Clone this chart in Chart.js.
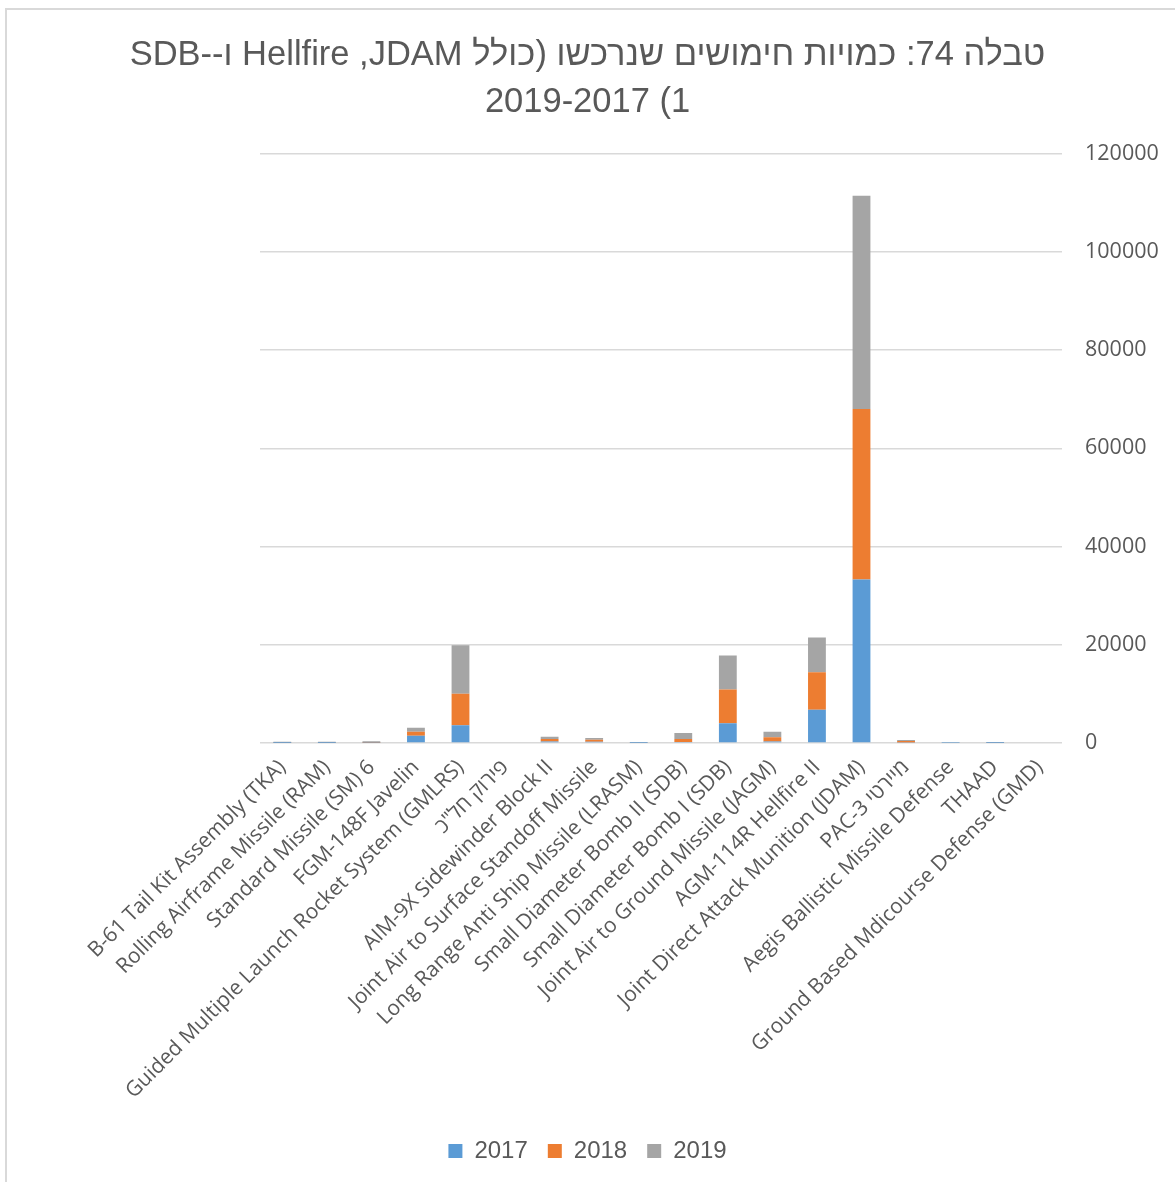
<!DOCTYPE html>
<html>
<head>
<meta charset="utf-8">
<script src="https://cdn.jsdelivr.net/npm/chart.js@4.4.1/dist/chart.umd.min.js"></script>
<style>
  html, body { margin: 0; padding: 0; background: #ffffff; overflow: hidden; }
  #frame { position: absolute; left: 5px; top: 8px; width: 1400px; height: 1400px; border: 2px solid #d9d9d9; box-sizing: border-box; }
  #c { position: absolute; left: 0; top: 0; }
</style>
</head>
<body>
<div id="frame"></div>
<canvas id="c" width="1175" height="1182"></canvas>
<script>
// ---- Data ----
const categories = [
  "B-61 Tail Kit Assembly (TKA)",
  "Rolling Airframe Missile (RAM)",
  "Standard Missile (SM) 6",
  "FGM-148F Javelin",
  "Guided Multiple Launch Rocket System (GMLRS)",
  "פירוק חל\"כ",
  "AIM-9X Sidewinder Block II",
  "Joint Air to Surface Standoff Missile",
  "Long Range Anti Ship Missile (LRASM)",
  "Small Diameter Bomb II (SDB)",
  "Small Diameter Bomb I (SDB)",
  "Joint Air to Ground Missile (JAGM)",
  "AGM-114R Hellfire II",
  "Joint Direct Attack Munition (JDAM)",
  "PAC-3 מיירטי",
  "Aegis Ballistic Missile Defense",
  "THAAD",
  "Ground Based Mdicourse Defense (GMD)"
];
const values2017 = [20, 20, 50, 1500, 3600, 0, 330, 250, 10, 200, 4000, 300, 6750, 33300, 100, 30, 20, 0];
const values2018 = [30, 30, 150, 800, 6450, 0, 480, 400, 20, 600, 6900, 850, 7650, 34700, 300, 40, 30, 0];
const values2019 = [200, 200, 150, 800, 9850, 0, 480, 350, 20, 1250, 6900, 1150, 7100, 43400, 200, 40, 40, 0];
const seriesNames = ["2017", "2018", "2019"];
const yTicks = [0, 20000, 40000, 60000, 80000, 100000, 120000];
const titleLines = [
  "טבלה 74: כמויות חימושים שנרכשו (כולל JDAM\u200F, Hellfire ו--SDB",
  "1) 2019-2017"
];

// ---- Styles ----
const colors = ["#5b9bd5", "#ed7d31", "#a5a5a5"];
const textColor = "#595959";
const gridColor = "#d9d9d9";

const series = [values2017, values2018, values2019];
const datasets = series.map((vals, i) => ({
  label: seriesNames[i],
  data: vals,
  backgroundColor: colors[i],
  borderWidth: 0,
  categoryPercentage: 1.0,
  barPercentage: 0.4
}));

new Chart(document.getElementById("c"), {
  type: "bar",
  data: { labels: categories, datasets },
  options: {
    responsive: false,
    animation: false,
    devicePixelRatio: 1,
    layout: { padding: { left: 0, right: 0, top: 0, bottom: 9 } },
    plugins: {
      title: {
        display: true,
        text: titleLines.map(t => "\u202B" + t + "\u202C"),
        color: textColor,
        font: { family: "'Liberation Sans', Arial, 'DejaVu Sans', sans-serif", size: 34.5, weight: "normal", lineHeight: 1.37 },
        padding: { top: 32, bottom: 27 }
      },
      legend: {
        position: "bottom",
        labels: {
          color: textColor,
          font: { family: "'Liberation Sans', Arial, sans-serif", size: 24 },
          boxWidth: 14,
          boxHeight: 14,
          padding: 20
        }
      },
      tooltip: { enabled: false }
    },
    scales: {
      x: {
        stacked: true,
        grid: { display: false },
        border: { display: false },
        ticks: {
          color: textColor,
          font: { family: "'Open Sans', sans-serif", size: 21 },
          minRotation: 45,
          maxRotation: 45,
          autoSkip: false,
          padding: 4
        },
        afterFit: (scale) => { scale.height = 376; scale.paddingLeft = 260; }
      },
      y: {
        stacked: true,
        position: "right",
        min: 0,
        max: 120000,
        grid: { color: gridColor, lineWidth: 1.5, drawTicks: false },
        border: { display: false },
        afterBuildTicks: (scale) => { scale.ticks = yTicks.map(v => ({ value: v })); },
        ticks: {
          color: textColor,
          font: { family: "'Open Sans', sans-serif", size: 21.5 },
          padding: 23,
          callback: (v) => String(v)
        },
        afterFit: (scale) => { scale.width = 113; }
      }
    }
  }
});
</script>
</body>
</html>
